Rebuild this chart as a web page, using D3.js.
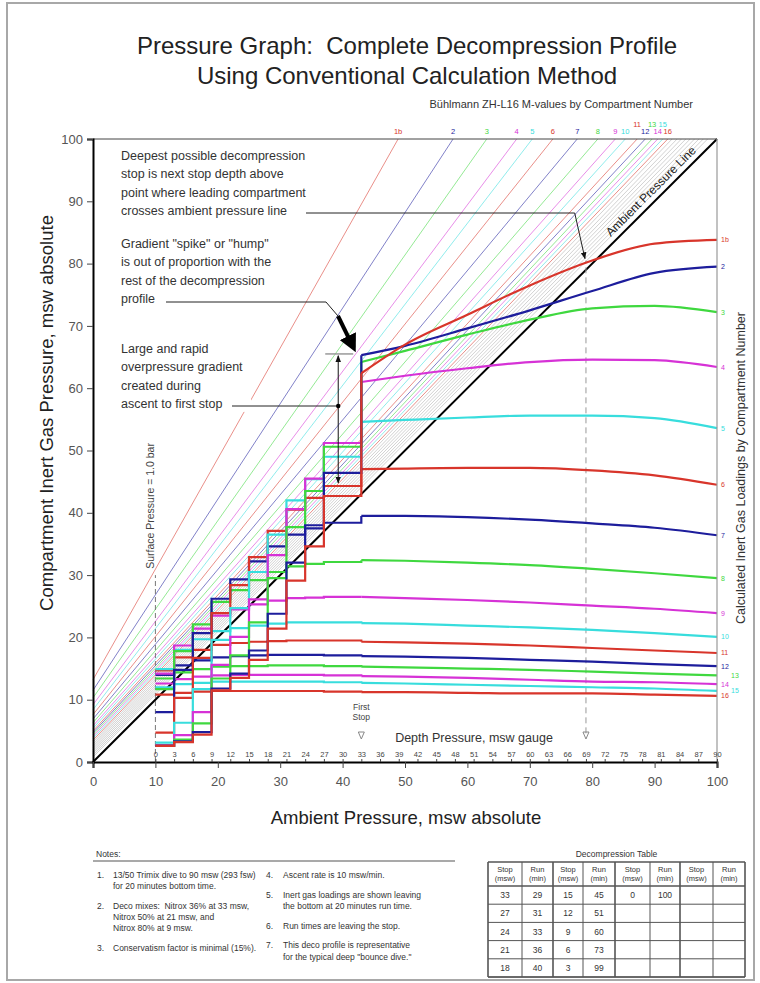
<!DOCTYPE html>
<html>
<head>
<meta charset="utf-8">
<script src="https://cdn.jsdelivr.net/npm/d3@7"></script>
<style>
  body { margin: 0; background: #fff; }
  svg { font-family: "Liberation Sans", Arial, sans-serif; }
</style>
</head>
<body>
<div id="chart"></div>
<script>
// ---- data ----
var compartments = ["1b", "2", "3", "4", "5", "6", "7", "8", "9", "10", "11", "12", "13", "14", "15", "16"];

// M-value lines: pressure at ambient 0, and ambient pressure where they reach 100
var mValueIntercept = [13.2, 11.5, 10.3, 9.2, 8.4, 7.6, 6.9, 6.3, 5.8, 5.4, 5.0, 4.7, 4.4, 4.1, 3.8, 3.5];
var mValueTop = [48.9, 57.7, 63.1, 67.9, 70.4, 73.7, 77.6, 80.9, 83.7, 85.3, 87.2, 88.5, 89.6, 90.5, 91.3, 92.1];

// thin gray lines between the M-values and the ambient line
var grayIntercept = [3.2, 2.9, 2.6, 2.3, 2.0, 1.7, 1.4, 1.1, 0.8];
var grayTop = [92.8, 93.6, 94.3, 95.0, 95.7, 96.4, 97.1, 97.8, 98.5];

// loadings during the ascent from the bottom to the first stop
var ascentAmbient = [100, 90, 80, 70, 60, 50, 43];
var ascentLoads = [
  [83.8, 83.2, 80.5, 76.5, 71.8, 67.0, 62.4],
  [79.5, 78.5, 75.6, 72.5, 69.6, 66.8, 65.3],
  [72.2, 73.2, 72.8, 71.0, 68.6, 66.0, 64.2],
  [63.4, 64.5, 64.6, 64.2, 63.2, 62.0, 61.0],
  [53.6, 55.2, 55.6, 55.6, 55.3, 54.9, 54.6],
  [44.5, 46.0, 46.8, 47.2, 47.2, 47.1, 47.0],
  [36.4, 37.6, 38.3, 38.9, 39.3, 39.5, 39.5],
  [29.5, 30.3, 31.0, 31.6, 32.0, 32.3, 32.4],
  [23.9, 24.6, 25.1, 25.6, 26.0, 26.3, 26.5],
  [20.1, 20.7, 21.2, 21.6, 21.9, 22.2, 22.3],
  [17.5, 17.9, 18.3, 18.7, 19.0, 19.2, 19.3],
  [15.4, 15.7, 16.1, 16.4, 16.7, 16.9, 17.0],
  [13.9, 14.2, 14.5, 14.8, 15.0, 15.2, 15.3],
  [12.5, 12.8, 12.9, 13.2, 13.5, 13.7, 13.8],
  [11.4, 11.8, 12.0, 12.2, 12.4, 12.6, 12.7],
  [10.6, 10.8, 11.0, 11.0, 11.1, 11.2, 11.2]
];

// loadings leaving each stop (33, 27, 24, 21, 18, 15, 12, 9, 6, 3 msw)
var stopLoads = [
  [42.7, 34.6, 29.1, 21.4, 16.4, 13.5, 11.5, 4.4, 3.2, 2.6],
  [46.4, 38.0, 32.0, 23.8, 17.9, 14.2, 11.8, 4.8, 3.3, 2.6],
  [50.6, 43.5, 37.7, 29.5, 22.4, 17.1, 13.4, 6.2, 3.6, 2.6],
  [51.2, 45.5, 40.6, 33.2, 26.1, 20.1, 15.6, 8.0, 4.3, 2.7],
  [49.0, 45.4, 42.0, 36.5, 30.5, 24.7, 19.6, 11.7, 6.3, 3.1],
  [44.3, 42.4, 40.5, 37.1, 32.9, 28.4, 23.9, 16.7, 10.3, 4.7],
  [38.4, 37.5, 36.5, 34.6, 32.2, 29.3, 26.2, 20.7, 14.8, 8.0],
  [32.1, 31.8, 31.4, 30.5, 29.2, 27.6, 25.7, 22.1, 17.8, 11.7],
  [26.5, 26.4, 26.3, 25.9, 25.3, 24.5, 23.5, 21.4, 18.7, 14.2],
  [22.4, 22.4, 22.4, 22.2, 21.9, 21.5, 21.0, 19.7, 18.0, 14.9],
  [19.5, 19.5, 19.5, 19.4, 19.3, 19.1, 18.8, 18.0, 16.8, 14.7],
  [17.1, 17.2, 17.2, 17.2, 17.1, 17.0, 16.8, 16.3, 15.5, 14.0],
  [15.4, 15.5, 15.5, 15.5, 15.4, 15.4, 15.3, 14.9, 14.4, 13.4],
  [13.9, 14.0, 14.0, 14.0, 14.0, 14.0, 13.9, 13.7, 13.3, 12.6],
  [12.8, 12.9, 12.9, 12.9, 12.9, 12.9, 12.9, 12.7, 12.5, 12.0],
  [11.3, 11.4, 11.4, 11.4, 11.4, 11.4, 11.4, 11.3, 11.1, 10.8]
];

// decompression table
var stopDepths = [33, 27, 24, 21, 18, 15, 12, 9, 6, 3, 0];
var runTimes = [29, 31, 33, 36, 40, 45, 51, 60, 73, 99, 100];

var ambientTicks = d3.range(0, 101, 10);
var depthTicks = d3.range(0, 91, 3);

var notesLeft = [
  ["1.", ["13/50 Trimix dive to 90 msw (293 fsw)", "for 20 minutes bottom time."]],
  ["2.", ["Deco mixes:  Nitrox 36% at 33 msw,", "Nitrox 50% at 21 msw, and", "Nitrox 80% at 9 msw."]],
  ["3.", ["Conservatism factor is minimal (15%)."]]
];
var notesRight = [
  ["4.", ["Ascent rate is 10 msw/min."]],
  ["5.", ["Inert gas loadings are shown leaving", "the bottom at 20 minutes run time."]],
  ["6.", ["Run times are leaving the stop."]],
  ["7.", ["This deco profile is representative", "for the typical deep \"bounce dive.\""]]
];

var palette = ["#d8352b", "#1d1d9c", "#3fd83f", "#d632d6", "#38dddd"];

var chart = {
  plot: { left: 93, right: 717, top: 139, bottom: 762 },

  initialize: function initialize() {
    this.svg = d3.select("#chart").append("svg")
      .attr("width", 760)
      .attr("height", 983);
    var defs = this.svg.append("defs");
    defs.append("marker").attr("id", "tip")
      .attr("viewBox", "0 0 10 10").attr("refX", 9).attr("refY", 5)
      .attr("markerWidth", 7).attr("markerHeight", 7).attr("orient", "auto-start-reverse")
      .append("path").attr("d", "M0,1L10,5L0,9z").attr("fill", "#111");
    defs.append("marker").attr("id", "bigtip")
      .attr("viewBox", "0 0 10 10").attr("refX", 6).attr("refY", 5)
      .attr("markerWidth", 4.5).attr("markerHeight", 4.5).attr("orient", "auto")
      .append("path").attr("d", "M0,0L10,5L0,10z").attr("fill", "#000");

    this.x = d3.scaleLinear().domain([0, 100]).range([this.plot.left, this.plot.right]);
    this.y = d3.scaleLinear().domain([0, 100]).range([this.plot.bottom, this.plot.top]);
    // gauge depth = ambient - 10
    this.depth = d3.scaleLinear().domain([-10, 90]).range([this.plot.left, this.plot.right]);
  },

  color: function color(i) {
    return palette[i % palette.length];
  },

  drawFrame: function drawFrame() {
    var svg = this.svg;
    svg.append("rect").attr("x", 7).attr("y", 3).attr("width", 747).attr("height", 977)
      .attr("fill", "none").attr("stroke", "#a8a8a8").attr("stroke-width", 2);

    svg.append("text").attr("x", 407).attr("y", 54).attr("text-anchor", "middle")
      .attr("font-size", 24).attr("fill", "#222").style("white-space", "pre")
      .text("Pressure Graph:  Complete Decompression Profile");
    svg.append("text").attr("x", 407).attr("y", 84).attr("text-anchor", "middle")
      .attr("font-size", 24).attr("fill", "#222")
      .text("Using Conventional Calculation Method");
    svg.append("text").attr("x", 693).attr("y", 108).attr("text-anchor", "end")
      .attr("font-size", 11).attr("fill", "#333")
      .text("Bühlmann ZH-L16 M-values by Compartment Number");
  },

  drawMValues: function drawMValues() {
    var x = this.x, y = this.y, svg = this.svg, self = this;
    var g = svg.append("g");

    grayIntercept.forEach(function(a, i) {
      g.append("line")
        .attr("x1", x(0)).attr("y1", y(a))
        .attr("x2", x(grayTop[i])).attr("y2", y(100))
        .attr("stroke", "#b4b4b4").attr("stroke-width", 0.6);
    });

    mValueIntercept.forEach(function(a, i) {
      g.append("line")
        .attr("x1", x(0)).attr("y1", y(a))
        .attr("x2", x(mValueTop[i])).attr("y2", y(100))
        .attr("stroke", self.color(i)).attr("stroke-opacity", 0.7)
        .attr("stroke-width", 0.8);
      var raised = compartments[i] === "11" || compartments[i] === "13" || compartments[i] === "15";
      svg.append("text")
        .attr("x", x(mValueTop[i])).attr("y", raised ? 127 : 134)
        .attr("text-anchor", "middle").attr("font-size", 7.5)
        .attr("fill", self.color(i)).text(compartments[i]);
    });

    // ambient pressure line
    g.append("line")
      .attr("x1", x(0)).attr("y1", y(0)).attr("x2", x(100)).attr("y2", y(100))
      .attr("stroke", "#000").attr("stroke-width", 2);
    g.append("text")
      .attr("transform", "translate(" + (x(90.5) - 4) + "," + (y(90.5) - 4) + ") rotate(-45)")
      .attr("text-anchor", "middle").attr("font-size", 12).attr("fill", "#222")
      .text("Ambient Pressure Line");
  },

  drawAxes: function drawAxes() {
    var svg = this.svg, x = this.x, y = this.y, p = this.plot;

    // plot border top / right
    svg.append("line").attr("x1", p.left).attr("x2", p.right).attr("y1", p.top).attr("y2", p.top)
      .attr("stroke", "#444").attr("stroke-width", 1);
    svg.append("line").attr("x1", p.right).attr("x2", p.right).attr("y1", p.top).attr("y2", p.bottom)
      .attr("stroke", "#999").attr("stroke-width", 1.2);

    var left = svg.append("g").attr("transform", "translate(" + p.left + ",0)")
      .call(d3.axisLeft(y).tickValues(ambientTicks).tickSize(6).tickPadding(4));
    var bottom = svg.append("g").attr("transform", "translate(0," + p.bottom + ")")
      .call(d3.axisBottom(x).tickValues(ambientTicks).tickSize(6).tickPadding(9));
    [left, bottom].forEach(function(a) {
      a.select(".domain").attr("stroke", "#000").attr("stroke-width", 2);
      a.selectAll(".tick line").attr("stroke", "#444");
      a.selectAll(".tick text").attr("fill", "#555").attr("font-size", 13)
        .attr("font-family", "Liberation Sans, Arial, sans-serif");
    });

    // gauge depth axis inside the plot
    var depthAxis = svg.append("g").attr("transform", "translate(0," + p.bottom + ")")
      .call(d3.axisTop(this.depth).tickValues(depthTicks).tickSize(3).tickPadding(2));
    depthAxis.select(".domain").remove();
    depthAxis.selectAll(".tick line").attr("stroke", "#444");
    depthAxis.selectAll(".tick text").attr("fill", "#444").attr("font-size", 7.5)
      .attr("font-family", "Liberation Sans, Arial, sans-serif");

    svg.append("text").attr("x", 474).attr("y", 742).attr("text-anchor", "middle")
      .attr("font-size", 12.5).attr("fill", "#333").text("Depth Pressure, msw gauge");

    svg.append("text").attr("x", 406).attr("y", 824).attr("text-anchor", "middle")
      .attr("font-size", 18.5).attr("fill", "#222").text("Ambient Pressure, msw absolute");
    svg.append("text").attr("transform", "translate(53,413) rotate(-90)")
      .attr("text-anchor", "middle").attr("font-size", 18.5).attr("fill", "#222")
      .text("Compartment Inert Gas Pressure, msw absolute");
    svg.append("text").attr("transform", "translate(745,468) rotate(-90)")
      .attr("text-anchor", "middle").attr("font-size", 12.5).attr("fill", "#333")
      .text("Calculated Inert Gas Loadings by Compartment Number");
  },

  drawMarkers: function drawMarkers() {
    var svg = this.svg, x = this.x, y = this.y;
    var surfaceX = stopDepths[stopDepths.length - 1] + 10;

    // surface pressure
    svg.append("line").attr("x1", x(surfaceX)).attr("x2", x(surfaceX))
      .attr("y1", y(0)).attr("y2", y(30))
      .attr("stroke", "#777").attr("stroke-dasharray", "5,3");
    svg.append("text").attr("transform", "translate(" + (x(surfaceX) - 1) + "," + y(31) + ") rotate(-90)")
      .attr("font-size", 10.5).attr("fill", "#444").text("Surface Pressure = 1.0 bar");

    // crossing of leading compartment
    svg.append("line").attr("x1", x(79)).attr("x2", x(79))
      .attr("y1", y(4.6)).attr("y2", y(80.5))
      .attr("stroke", "#999").attr("stroke-dasharray", "6,4");

    [[stopDepths[0] + 10, true], [79, false]].forEach(function(m) {
      var cx = x(m[0]);
      svg.append("path")
        .attr("d", "M" + (cx - 3) + "," + 732 + "L" + (cx + 3) + "," + 732 + "L" + cx + "," + 739 + "Z")
        .attr("fill", "none").attr("stroke", "#888");
      if (m[1]) {
        svg.append("text").attr("x", cx).attr("y", 710).attr("text-anchor", "middle")
          .attr("font-size", 8.5).attr("fill", "#444").text("First");
        svg.append("text").attr("x", cx).attr("y", 720).attr("text-anchor", "middle")
          .attr("font-size", 8.5).attr("fill", "#444").text("Stop");
      }
    });
  },

  plotData: function plotData() {
    var x = this.x, y = this.y, svg = this.svg, self = this;
    var g = svg.append("g");
    var line = d3.line().x(function(d) { return x(d[0]); }).y(function(d) { return y(d[1]); });
    var smooth = d3.line().x(function(d) { return x(d[0]); }).y(function(d) { return y(d[1]); })
      .curve(d3.curveMonotoneX);
    var stopAmbient = stopDepths.slice(0, stopLoads[0].length).map(function(d) { return d + 10; });
    var surfaceX = stopDepths[stopDepths.length - 1] + 10;

    for (var i = compartments.length - 1; i >= 0; i--) {
      var asc = ascentAmbient.map(function(a, j) { return [a, ascentLoads[i][j]]; })
        .sort(function(a, b) { return a[0] - b[0]; });
      var prev = ascentLoads[i][ascentLoads[i].length - 1];
      var steps = [[stopAmbient[0], prev]];
      stopAmbient.forEach(function(a, k) {
        steps.push([a, prev]);
        steps.push([a, stopLoads[i][k]]);
        prev = stopLoads[i][k];
      });
      steps.push([surfaceX, prev]);

      g.append("path").attr("d", smooth(asc)).attr("fill", "none")
        .attr("stroke", self.color(i)).attr("stroke-width", 2.2);
      g.append("path").attr("d", line(steps)).attr("fill", "none")
        .attr("stroke", self.color(i)).attr("stroke-width", 2.2);

      var shifted = compartments[i] === "13" || compartments[i] === "15";
      svg.append("text").attr("x", shifted ? 731 : 721).attr("y", y(ascentLoads[i][0]) + 2.5)
        .attr("font-size", 7).attr("fill", self.color(i)).text(compartments[i]);
    }
  },

  drawAnnotations: function drawAnnotations() {
    var svg = this.svg, x = this.x, y = this.y;
    var blocks = [
      [160, ["Deepest possible decompression", "stop is next stop depth above",
        "point where leading compartment", "crosses ambient pressure line"]],
      [248, ["Gradient \"spike\" or \"hump\"", "is out of proportion with the",
        "rest of the decompression", "profile"]],
      [353, ["Large and rapid", "overpressure gradient", "created during", "ascent to first stop"]]
    ];
    blocks.forEach(function(b) {
      b[1].forEach(function(t, k) {
        svg.append("rect").attr("x", 119).attr("y", b[0] + k * 18.3 - 11)
          .attr("width", t.length * 6.6).attr("height", 15).attr("fill", "#fff");
        svg.append("text").attr("x", 121).attr("y", b[0] + k * 18.3)
          .attr("font-size", 12.5).attr("fill", "#333").text(t);
      });
    });

    var path = d3.line();
    // deepest stop leader
    svg.append("path").attr("d", path([[306, 213], [x(77.2), 213], [x(79) - 1, y(80.8)]]))
      .attr("fill", "none").attr("stroke", "#222").attr("stroke-width", 1)
      .attr("marker-end", "url(#tip)");
    // spike leader and thick arrow
    svg.append("path").attr("d", path([[166, 302], [326, 302], [338, 316]]))
      .attr("fill", "none").attr("stroke", "#222").attr("stroke-width", 1);
    svg.append("line").attr("x1", 338).attr("y1", 316)
      .attr("x2", x(41.6)).attr("y2", y(66.8))
      .attr("stroke", "#000").attr("stroke-width", 4).attr("marker-end", "url(#bigtip)");

    // overpressure gradient span
    var gx = x(39.3);
    svg.append("line").attr("x1", gx - 13).attr("x2", gx + 15).attr("y1", y(65.5)).attr("y2", y(65.5))
      .attr("stroke", "#999").attr("stroke-width", 1.5);
    svg.append("line").attr("x1", gx).attr("x2", gx).attr("y1", y(65.2)).attr("y2", y(44.8))
      .attr("stroke", "#111").attr("stroke-width", 1)
      .attr("marker-start", "url(#tip)").attr("marker-end", "url(#tip)");
    svg.append("line").attr("x1", 232).attr("x2", gx).attr("y1", 406).attr("y2", 406)
      .attr("stroke", "#222").attr("stroke-width", 1);
    svg.append("circle").attr("cx", gx).attr("cy", 406).attr("r", 2.2).attr("fill", "#000");
  },

  drawNotes: function drawNotes() {
    var svg = this.svg;
    svg.append("text").attr("x", 96).attr("y", 857).attr("font-size", 8.5).attr("fill", "#333").text("Notes:");
    svg.append("line").attr("x1", 93).attr("x2", 455).attr("y1", 861).attr("y2", 861)
      .attr("stroke", "#555").attr("stroke-width", 1.2);

    function column(items, nx, tx) {
      var yPos = 878;
      items.forEach(function(it) {
        svg.append("text").attr("x", nx).attr("y", yPos).attr("font-size", 8.5).attr("fill", "#333").text(it[0]);
        it[1].forEach(function(t, k) {
          svg.append("text").attr("x", tx).attr("y", yPos + k * 11.2)
            .attr("font-size", 8.5).attr("fill", "#333").style("white-space", "pre").text(t);
        });
        yPos += it[1].length * 11.2 + 8.5;
      });
    }
    column(notesLeft, 97, 113);
    column(notesRight, 266, 283);
  },

  drawTable: function drawTable() {
    var svg = this.svg;
    var cols = [488, 522, 553, 583, 615, 650, 680, 713, 745];
    var top = 862, headBottom = 886, rowH = 18.2, rows = 5;
    var bottom = headBottom + rows * rowH;
    var g = svg.append("g");

    g.append("text").attr("x", (cols[0] + cols[8]) / 2).attr("y", 857).attr("text-anchor", "middle")
      .attr("font-size", 8.5).attr("fill", "#333").text("Decompression Table");

    for (var r = 0; r <= rows; r++) {
      g.append("line").attr("x1", cols[0]).attr("x2", cols[8])
        .attr("y1", headBottom + r * rowH).attr("y2", headBottom + r * rowH)
        .attr("stroke", "#555").attr("stroke-width", r === 0 ? 1.5 : 1);
    }
    g.append("line").attr("x1", cols[0]).attr("x2", cols[8]).attr("y1", top).attr("y2", top)
      .attr("stroke", "#555").attr("stroke-width", 1.5);
    g.append("line").attr("x1", cols[0]).attr("x2", cols[8]).attr("y1", bottom).attr("y2", bottom)
      .attr("stroke", "#555").attr("stroke-width", 1.5);
    cols.forEach(function(c, k) {
      g.append("line").attr("x1", c).attr("x2", c).attr("y1", top).attr("y2", bottom)
        .attr("stroke", "#555").attr("stroke-width", k % 2 === 0 ? 1.6 : 1);
    });

    for (var c = 0; c < 8; c++) {
      var cx = (cols[c] + cols[c + 1]) / 2;
      var head = c % 2 === 0 ? ["Stop", "(msw)"] : ["Run", "(min)"];
      g.append("text").attr("x", cx).attr("y", 872).attr("text-anchor", "middle")
        .attr("font-size", 7.5).attr("fill", "#333").text(head[0]);
      g.append("text").attr("x", cx).attr("y", 881).attr("text-anchor", "middle")
        .attr("font-size", 7.5).attr("fill", "#333").text(head[1]);
    }

    stopDepths.forEach(function(d, i) {
      var pair = Math.floor(i / rows), row = i % rows;
      var yy = headBottom + row * rowH + rowH / 2 + 3;
      g.append("text").attr("x", (cols[pair * 2] + cols[pair * 2 + 1]) / 2).attr("y", yy)
        .attr("text-anchor", "middle").attr("font-size", 8.5).attr("fill", "#333").text(d);
      g.append("text").attr("x", (cols[pair * 2 + 1] + cols[pair * 2 + 2]) / 2).attr("y", yy)
        .attr("text-anchor", "middle").attr("font-size", 8.5).attr("fill", "#333").text(runTimes[i]);
    });
  },

  render: function render() {
    this.initialize();
    this.drawFrame();
    this.drawMValues();
    this.drawMarkers();
    this.plotData();
    this.drawAxes();
    this.drawAnnotations();
    this.drawNotes();
    this.drawTable();
  }
};

chart.render();
</script>
</body>
</html>
